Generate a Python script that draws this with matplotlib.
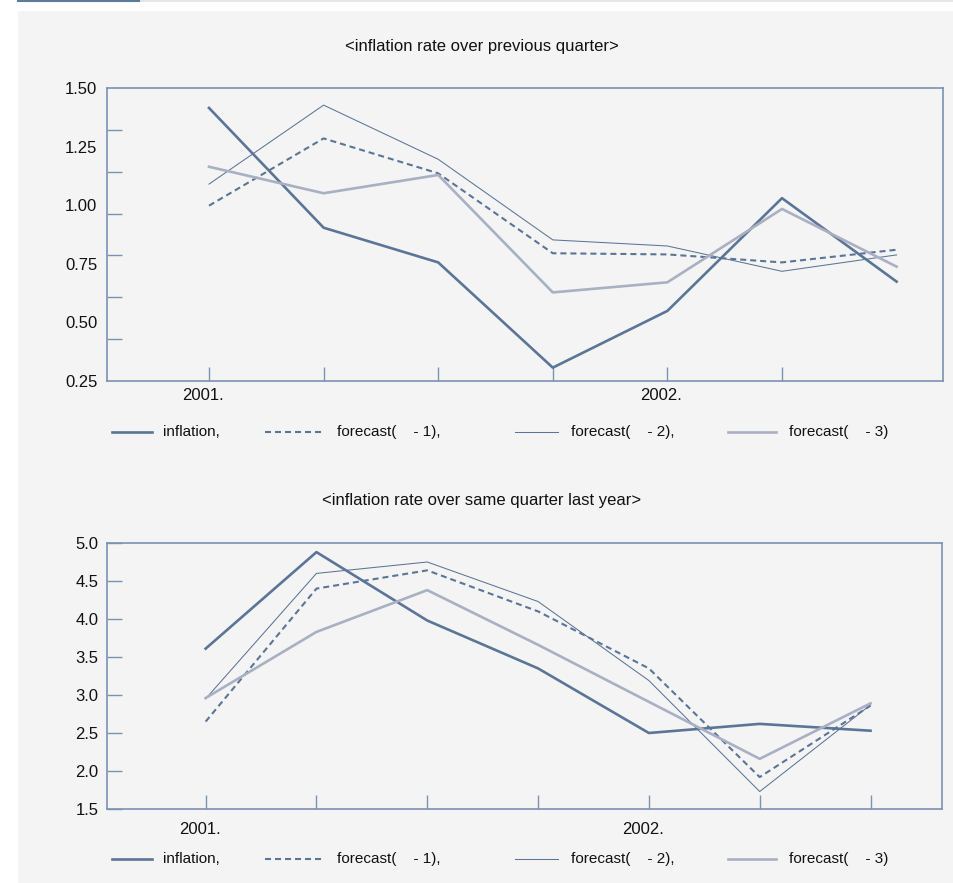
import numpy as np
import matplotlib
matplotlib.use("Agg")
import matplotlib.pyplot as plt
import matplotlib.transforms as mtrans
from matplotlib.lines import Line2D
from matplotlib.patches import Rectangle

plt.rcParams['font.family'] = ['Liberation Sans', 'DejaVu Sans']

# quarters 2001Q1 .. 2002Q3
quarters = np.arange(7)
year_labels = ['2001.', '', '', '', '2002.', '', '']

# inflation rate over previous quarter
q_inflation = [1.415, 0.904, 0.756, 0.307, 0.549, 1.03, 0.674]
q_fc1 = [0.998, 1.285, 1.136, 0.795, 0.79, 0.756, 0.81]
q_fc2 = [1.09, 1.427, 1.196, 0.852, 0.826, 0.718, 0.788]
q_fc3 = [1.164, 1.051, 1.129, 0.628, 0.671, 0.984, 0.738]

# inflation rate over same quarter last year
y_inflation = [3.61, 4.88, 3.98, 3.35, 2.50, 2.62, 2.53]
y_fc1 = [2.65, 4.40, 4.64, 4.10, 3.35, 1.92, 2.86]
y_fc2 = [2.95, 4.60, 4.75, 4.23, 3.19, 1.73, 2.87]
y_fc3 = [2.96, 3.83, 4.38, 3.66, 2.91, 2.16, 2.89]

labels = ['inflation,', 'forecast(    - 1),', 'forecast(    - 2),', 'forecast(    - 3)']

dark = '#5b7597'
light = '#a9b0c3'
spine_c = '#7b92b2'
txt_c = '#111111'
styles = [dict(color=dark, lw=1.9, ls='-'),
          dict(color=dark, lw=1.5, ls=(0, (2.9, 1.9))),
          dict(color=dark, lw=0.75, ls='-'),
          dict(color=light, lw=1.9, ls='-')]

fig = plt.figure(figsize=(9.54, 8.83), dpi=100)
fig.patch.set_facecolor('white')

# grey panel and top rule
fig.patches.append(Rectangle((18 / 954, 0), 1, 1 - 11 / 883, transform=fig.transFigure,
                             facecolor='#f4f4f4', edgecolor='none', zorder=-5))
fig.add_artist(Line2D([139 / 954, 1], [1 - 0.8 / 883] * 2, color='#dfe1e8', lw=1.2))
fig.add_artist(Line2D([18 / 954, 139 / 954], [1 - 0.8 / 883] * 2, color='#5b7a9c', lw=1.5))


def style_axes(ax, xpad):
    ax.set_facecolor('none')
    for s in ax.spines.values():
        s.set_color(spine_c)
        s.set_linewidth(1.2)
    ax.tick_params(axis='both', which='both', direction='in', colors=spine_c,
                   labelcolor=txt_c, labelsize=12)
    ax.tick_params(axis='x', which='both', length=10, width=1, pad=xpad)
    ax.tick_params(axis='y', which='both', length=11, width=1, pad=6)
    # year label sits a little left of its tick
    shift = mtrans.ScaledTranslation(-6 / 100, 0, fig.dpi_scale_trans)
    for lab in ax.get_xticklabels():
        lab.set_transform(lab.get_transform() + shift)


def legend_row(ypos):
    xs = [(112, 152, 163), (265, 323, 337), (515, 558, 571), (728, 776, 789)]
    for (x0, x1, xt), st, lab in zip(xs, styles, labels):
        fig.add_artist(Line2D([x0 / 954, x1 / 954], [ypos, ypos], **st))
        fig.text(xt / 954, ypos, lab, ha='left', va='center', fontsize=11, color=txt_c)


# ---- top chart
ax1 = fig.add_axes([107 / 954, 1 - 381 / 883, 836 / 954, 293 / 883])
for vals, st in zip([q_inflation, q_fc1, q_fc2, q_fc3], styles):
    ax1.plot(quarters, vals, **st)
ax1.set_xlim(-0.89, 6.405)
ax1.set_ylim(0.25, 1.5)
ax1.set_xticks(quarters[:6])
ax1.set_xticklabels(year_labels[:6])
ax1.set_yticks([0.25, 0.5, 0.75, 1.0, 1.25, 1.5])
ax1.set_yticklabels(['0.25', '0.50', '0.75', '1.00', '1.25', '1.50'])
ax1.set_yticks(np.linspace(0.25, 1.5, 8), minor=True)
style_axes(ax1, 5)
ax1.tick_params(axis='y', which='major', length=0, pad=7)
fig.text(482 / 954, 1 - 47 / 883, '<inflation rate over previous quarter>',
         ha='center', va='center', fontsize=12, color=txt_c)
legend_row(1 - 432 / 883)

# ---- bottom chart
ax2 = fig.add_axes([107 / 954, 1 - 809 / 883, 835 / 954, 266 / 883])
for vals, st in zip([y_inflation, y_fc1, y_fc2, y_fc3], styles):
    ax2.plot(quarters, vals, **st)
ax2.set_xlim(-0.89, 6.645)
ax2.set_ylim(1.5, 5.0)
ax2.set_xticks(quarters)
ax2.set_xticklabels(year_labels)
ax2.set_yticks(np.arange(1.5, 5.01, 0.5))
ax2.set_yticklabels([f'{v:.1f}' for v in np.arange(1.5, 5.01, 0.5)])
style_axes(ax2, 9)
fig.text(482 / 954, 1 - 500 / 883, '<inflation rate over same quarter last year>',
         ha='center', va='center', fontsize=12, color=txt_c)
legend_row(1 - 859 / 883)

fig.savefig('out.png', dpi=100, facecolor='white')
